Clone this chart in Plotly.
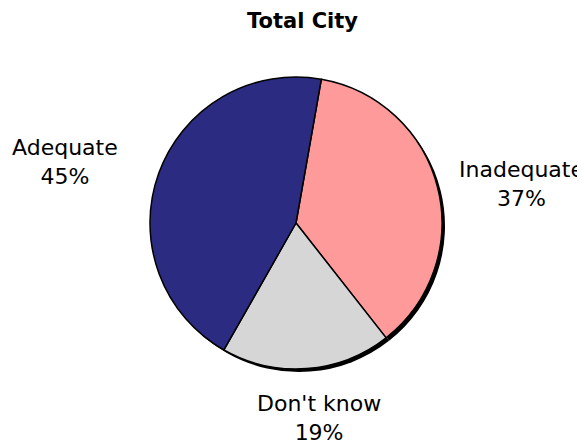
import plotly.graph_objects as go

categories = ["Inadequate", "Don't know", "Adequate"]
values = [37, 19, 45]
colors = ["#ff9a9a", "#d6d6d6", "#2b2b82"]
title_text = "Total City"

W, H = 585, 445
OFF = 8  # page body margin in the screenshot

def px(X):
    return (X - OFF) / W

def py(Y):
    return 1 - (Y - OFF) / H

cx, cy, r = 296, 223, 146

def dom(cx, cy, r):
    return dict(x=[px(cx - r), px(cx + r)], y=[py(cy + r), py(cy - r)])

fig = go.Figure()
# shadow
fig.add_trace(go.Pie(
    labels=categories, values=values, sort=False, direction="clockwise",
    rotation=10, domain=dom(cx + 3, cy + 3, r),
    marker=dict(colors=["#000000"] * 3, line=dict(width=0)),
    textinfo="none", hoverinfo="skip", showlegend=False,
))
fig.add_trace(go.Pie(
    labels=categories, values=values, sort=False, direction="clockwise",
    rotation=10, domain=dom(cx, cy, r),
    marker=dict(colors=colors, line=dict(color="#000000", width=1.5)),
    textinfo="none", showlegend=False,
))

total = sum(values)
label_pos = {"Inadequate": (521, 184), "Don't know": (319, 418), "Adequate": (65, 162)}
for cat, v in zip(categories, values):
    x, y = label_pos[cat]
    fig.add_annotation(
        x=px(x), y=py(y), xref="paper", yref="paper",
        xanchor="center", yanchor="middle",
        text=f"{cat}<br>{round(100 * v / total)}%",
        showarrow=False, align="center",
        font=dict(family="DejaVu Sans", size=22, color="#000000"),
    )

fig.add_annotation(
    x=px(302), y=py(21), xref="paper", yref="paper",
    xanchor="center", yanchor="middle",
    text=f"<b>{title_text}</b>", showarrow=False,
    font=dict(family="DejaVu Sans", size=21, color="#000000"),
)

fig.update_layout(
    width=W, height=H, margin=dict(l=0, r=0, t=0, b=0),
    paper_bgcolor="white", plot_bgcolor="white",
)
fig.write_html("out.html")
